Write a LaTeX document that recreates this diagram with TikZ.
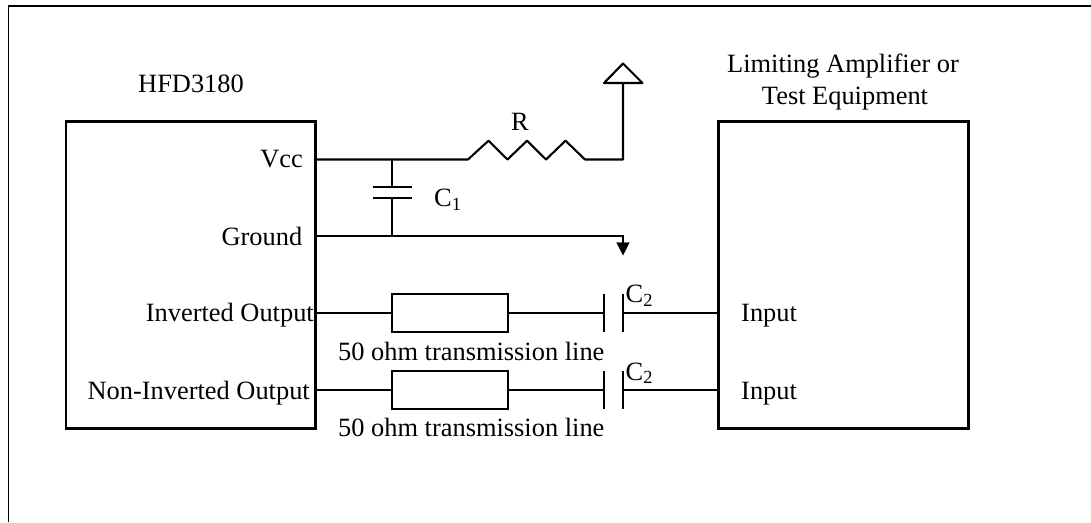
\documentclass[tikz,border=0pt]{standalone}
\usepackage{fontspec}
\setmainfont{Liberation Serif}
\tikzset{
    wire/.style={black, line width=2.1pt},
    block/.style={draw=black, line width=2.1pt, inner sep=0pt, fill=white},
    label/.style={inner sep=0pt, font=\fontsize{26.4}{30}\selectfont}
}
\begin{document}
\begin{tikzpicture}[x=1pt, y=-1pt]
        \useasboundingbox (0,0) rectangle (1091,522);
        \draw[wire, line width=1.7pt] (1091,6) -- (8.5,6) -- (8.5,522);

        \node[block, minimum width=249.5pt, minimum height=307pt] (hfd) at (190.75,275) {};
        \node[block, minimum width=250pt, minimum height=307pt] (amp) at (843.5,275) {};
        \node[block, minimum width=116pt, minimum height=38.5pt] (lineA) at (450,313) {};
        \node[block, minimum width=116pt, minimum height=38.5pt] (lineB) at (450,390) {};

        \coordinate (vcc) at (hfd.east |- 0,159.5);
        \coordinate (gnd) at (hfd.east |- 0,236);
        \coordinate (topC) at (392,159.5);
        \coordinate (botC) at (392,236);
        \coordinate (rail) at (623,83);
        \coordinate (sink) at (623,236);

        \draw[wire, line join=round] (vcc) -- (468,159.5) -- (488.5,140.7) -- (507.5,159.5) -- (527,140.7)
            -- (546,159.5) -- (565.5,140.7) -- (585,159.5) -- (623,159.5) -- (rail);
        \draw[wire, line join=round] (604,83) -- (642.5,83) -- (623,63.5) -- cycle;
        \draw[wire] (gnd) -- (sink) -- (623,243);
        \filldraw[black] (616.7,242.5) -- (629.3,242.5) -- (623,255) -- cycle;

        \draw[wire] (topC) -- (392,187);
        \draw[wire] (392,198) -- (botC);
        \draw[wire] (373,187) -- (412,187);
        \draw[wire] (373,198) -- (412,198);

        \draw[wire] (hfd.east |- lineA) -- (lineA.west);
        \draw[wire] (lineA.east) -- (603.7,313);
        \draw[wire] (622.7,313) -- (amp.west |- lineA);
        \draw[wire] (603.7,294) -- (603.7,332);
        \draw[wire] (622.7,294) -- (622.7,332);

        \draw[wire] (hfd.east |- lineB) -- (lineB.west);
        \draw[wire] (lineB.east) -- (603.7,390);
        \draw[wire] (622.7,390) -- (amp.west |- lineB);
        \draw[wire] (603.7,371) -- (603.7,409);
        \draw[wire] (622.7,371) -- (622.7,409);

        \node[label, anchor=base west] (hfdname) at (138,92) {HFD3180};
        \node[label, anchor=base] (ampnameA) at (843,72) {Limiting Amplifier or};
        \node[label, anchor=base] (ampnameB) at (845,104) {Test Equipment};
        \node[label, anchor=base east] (vcclabel) at (303,167.5) {Vcc};
        \node[label, anchor=base east] (gndlabel) at (302.5,245) {Ground};
        \node[label, anchor=base east] (invlabel) at (314,321.5) {Inverted Output};
        \node[label, anchor=base east] (noninvlabel) at (310,399) {Non-Inverted Output};
        \node[label, anchor=base west] (inA) at (741,321.5) {Input};
        \node[label, anchor=base west] (inB) at (741,399) {Input};
        \node[label, anchor=base west] (rlabel) at (511,130) {R};
        \node[label, anchor=base west] (c1label) at (434,206.5) {C\textsubscript{1}};
        \node[label, anchor=base west] (c2labelA) at (625.5,302.5) {C\textsubscript{2}};
        \node[label, anchor=base west] (c2labelB) at (625.5,380) {C\textsubscript{2}};
        \node[label, anchor=base west] (lineAlabel) at (338,360) {50 ohm transmission line};
        \node[label, anchor=base west] (lineBlabel) at (338,436.5) {50 ohm transmission line};
    \end{tikzpicture}
\end{document}
